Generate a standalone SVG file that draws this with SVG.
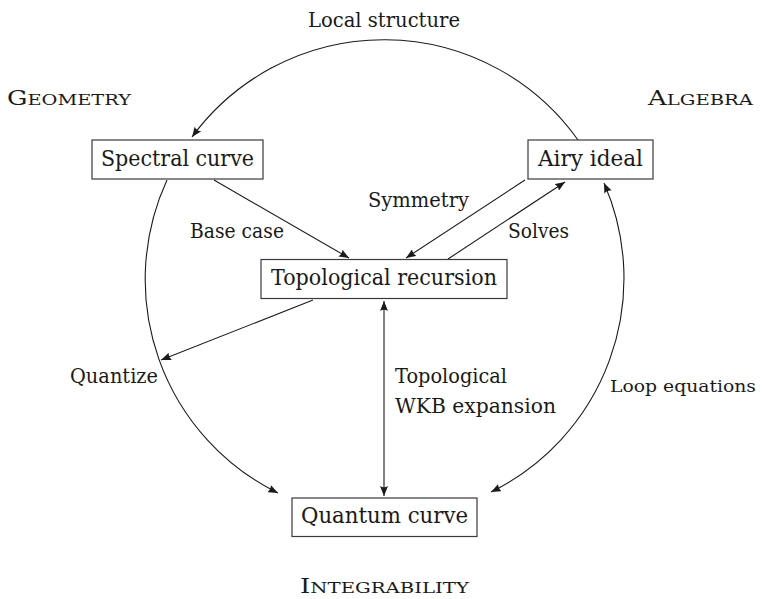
<svg xmlns="http://www.w3.org/2000/svg" width="764" height="599" viewBox="0 0 764 599">
<style>
  .box { fill: #ffffff; stroke: #3a3a3a; stroke-width: 1.2; }
  text { font-family: "DejaVu Serif", "Liberation Serif", serif; fill: #1a1a1a; }
  .node { font-size: 22px; }
  .lbl { font-size: 20.5px; }
  .lbl-sm { font-size: 17.5px; }
  .sc { font-size: 20.5px; }
  .scs { font-size: 15.5px; }
  .edge { fill: none; stroke: #1a1a1a; stroke-width: 1.1; }
</style>
<defs>
  <marker id="arr" viewBox="0 0 10 8" refX="10" refY="4" markerWidth="10" markerHeight="8" markerUnits="userSpaceOnUse" orient="auto-start-reverse">
    <path d="M10,4 L0,0 Q2.5,4 0,8 Z" fill="#1a1a1a"/>
  </marker>
</defs>

<g id="connectors">
  <path class="edge" d="M 578 140 A 238 238 0 0 0 192 137" marker-end="url(#arr)"/>
  <path class="edge" d="M 167 180 A 238 238 0 0 0 278 493" marker-end="url(#arr)"/>
  <path class="edge" d="M 604 183 A 238 238 0 0 1 491 492" marker-start="url(#arr)" marker-end="url(#arr)"/>
  <path class="edge" d="M 214 180 L 349 258" marker-end="url(#arr)"/>
  <path class="edge" d="M 525 180 L 406 258" marker-end="url(#arr)"/>
  <path class="edge" d="M 448 259 L 565 182" marker-end="url(#arr)"/>
  <path class="edge" d="M 313 300 L 161 360" marker-end="url(#arr)"/>
  <path class="edge" d="M 384 301 L 384 496" marker-start="url(#arr)" marker-end="url(#arr)"/>
</g>

<g id="labels">
  <text class="lbl" x="308" y="27" textLength="152" lengthAdjust="spacingAndGlyphs">Local structure</text>
  <text class="sc" x="7" y="105" textLength="124" lengthAdjust="spacingAndGlyphs">G<tspan class="scs">EOMETRY</tspan></text>
  <text class="sc" x="648" y="105" textLength="105" lengthAdjust="spacingAndGlyphs">A<tspan class="scs">LGEBRA</tspan></text>
  <text class="sc" x="300" y="593" textLength="169" lengthAdjust="spacingAndGlyphs">I<tspan class="scs">NTEGRABILITY</tspan></text>
  <text class="lbl" x="368" y="207" textLength="101" lengthAdjust="spacingAndGlyphs">Symmetry</text>
  <text class="lbl" x="190" y="238" textLength="94" lengthAdjust="spacingAndGlyphs">Base case</text>
  <text class="lbl" x="508" y="238" textLength="61" lengthAdjust="spacingAndGlyphs">Solves</text>
  <text class="lbl" x="70" y="383" textLength="88" lengthAdjust="spacingAndGlyphs">Quantize</text>
  <text class="lbl" x="395" y="383" textLength="112" lengthAdjust="spacingAndGlyphs">Topological</text>
  <text class="lbl" x="395" y="413" textLength="161" lengthAdjust="spacingAndGlyphs">WKB expansion</text>
  <text class="lbl-sm" x="610" y="392" textLength="146" lengthAdjust="spacingAndGlyphs">Loop equations</text>
</g>

<g id="spectral-curve">
  <rect class="box" x="92" y="140" width="171" height="39"/>
  <text class="node" x="101" y="166" textLength="153" lengthAdjust="spacingAndGlyphs">Spectral curve</text>
</g>
<g id="airy-ideal">
  <rect class="box" x="528" y="140" width="125" height="39"/>
  <text class="node" x="538" y="166" textLength="105" lengthAdjust="spacingAndGlyphs">Airy ideal</text>
</g>
<g id="topological-recursion">
  <rect class="box" x="261" y="259.5" width="246" height="39"/>
  <text class="node" x="271" y="285" textLength="226" lengthAdjust="spacingAndGlyphs">Topological recursion</text>
</g>
<g id="quantum-curve">
  <rect class="box" x="292" y="498" width="185" height="38.5"/>
  <text class="node" x="301" y="523" textLength="167" lengthAdjust="spacingAndGlyphs">Quantum curve</text>
</g>
</svg>
